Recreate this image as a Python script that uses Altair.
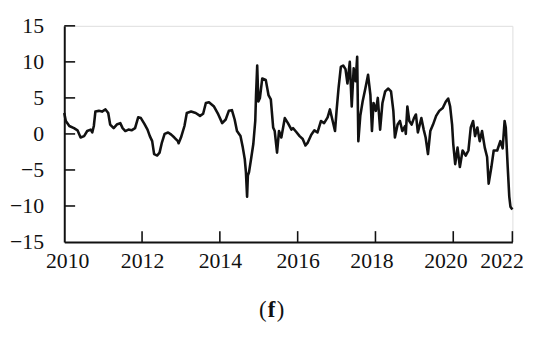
import altair as alt
import pandas as pd

years = [
    2010.00, 2010.04, 2010.13, 2010.25, 2010.34, 2010.42, 2010.51, 2010.59, 2010.68, 2010.72,
    2010.76, 2010.80, 2010.89, 2010.97, 2011.06, 2011.13, 2011.18, 2011.27, 2011.35, 2011.44,
    2011.50, 2011.57, 2011.65, 2011.73, 2011.82, 2011.90, 2011.97, 2012.06, 2012.14, 2012.20,
    2012.26, 2012.31, 2012.39, 2012.45, 2012.51, 2012.58, 2012.67, 2012.75, 2012.83, 2012.92,
    2012.94, 2013.00, 2013.09, 2013.15, 2013.26, 2013.38, 2013.49, 2013.57, 2013.64, 2013.72,
    2013.85, 2013.96, 2014.06, 2014.15, 2014.23, 2014.31, 2014.38, 2014.44, 2014.53, 2014.59,
    2014.64, 2014.67, 2014.70, 2014.72, 2014.75, 2014.81, 2014.86, 2014.91, 2014.93, 2014.96,
    2014.99, 2015.03, 2015.09, 2015.18, 2015.25, 2015.31, 2015.37, 2015.41, 2015.47, 2015.52,
    2015.58, 2015.67, 2015.75, 2015.84,
    2015.88, 2015.96, 2016.05, 2016.13, 2016.20, 2016.26, 2016.35, 2016.43, 2016.51, 2016.60,
    2016.68, 2016.77, 2016.83, 2016.90, 2016.96, 2017.00, 2017.05, 2017.11, 2017.17, 2017.23,
    2017.28, 2017.34, 2017.39, 2017.44, 2017.49, 2017.53, 2017.56, 2017.61, 2017.67, 2017.74,
    2017.81, 2017.87, 2017.91, 2017.95, 2018.01, 2018.06, 2018.12, 2018.18, 2018.25, 2018.33,
    2018.40, 2018.46, 2018.50, 2018.57, 2018.63, 2018.69, 2018.76,
    2018.78, 2018.82, 2018.87, 2018.93, 2018.99, 2019.04, 2019.09, 2019.18, 2019.24, 2019.29,
    2019.35, 2019.41, 2019.48, 2019.56, 2019.64, 2019.73, 2019.81, 2019.87, 2019.92, 2019.97,
    2020.00, 2020.05, 2020.11, 2020.17, 2020.24, 2020.32, 2020.39, 2020.45, 2020.51, 2020.56,
    2020.62, 2020.68, 2020.74, 2020.81, 2020.87, 2020.91, 2020.98, 2021.04, 2021.13, 2021.21,
    2021.27, 2021.32, 2021.35, 2021.40, 2021.44, 2021.47, 2021.52,
]
values = [
    2.9, 1.8, 1.1, 0.8, 0.5, -0.5, -0.3, 0.4, 0.6, 0.2,
    1.1, 3.1, 3.2, 3.1, 3.4, 2.9, 1.3, 0.8, 1.3, 1.5,
    0.8, 0.4, 0.6, 0.5, 0.8, 2.3, 2.2, 1.4, 0.6, -0.3,
    -1.0, -2.8, -3.0, -2.6, -1.2, 0.0, 0.2, -0.1, -0.5, -1.0,
    -1.3, -0.5, 1.1, 2.9, 3.1, 2.9, 2.5, 2.8, 4.3, 4.4,
    3.8, 2.7, 1.5, 2.0, 3.2, 3.3, 2.0, 0.4, -0.3, -1.9,
    -3.5, -5.3, -8.7, -5.8, -5.3, -3.2, -1.4, 1.8, 5.4, 9.5,
    4.5, 5.0, 7.7, 7.5, 5.4, 4.8, 0.9, 0.4, -2.6, 0.4,
    -0.5, 2.2, 1.5, 0.6,
    0.8, 0.3, -0.3, -0.7, -1.6, -1.2, -0.1, 0.5, 0.2, 1.8,
    1.5, 2.3, 3.4, 1.8, 0.4, 3.2, 6.3, 9.3, 9.5, 9.0,
    7.0, 10.0, 3.8, 9.1, 7.3, 10.7, -1.0, 2.5, 4.5, 6.3,
    8.2, 5.4, 0.4, 4.3, 3.2, 5.0, 0.6, 4.3, 5.9, 6.3,
    5.9, 3.2, -0.5, 1.3, 1.8, 0.4, 1.1,
    0.0, 3.8, 1.8, 1.3, 2.2, 2.7, 0.2, 2.2, 0.6, -0.5,
    -2.8, 0.4, 1.3, 2.5, 3.2, 3.6, 4.5, 4.9, 3.8, 1.3,
    -1.4, -4.2, -1.9, -4.6, -2.3, -3.0, -2.3, 0.9, 1.8, -0.3,
    0.9, -1.0, 0.4, -1.9, -3.2, -6.9, -4.6, -2.3, -2.3, -1.0,
    -2.0, 1.8, 0.9, -4.6, -8.7, -10.1, -10.5,
]

x_tick_values = [2010, 2012, 2014, 2016, 2018, 2020, 2021.52]
x_tick_labels = ["2010", "2012", "2014", "2016", "2018", "2020", "2022"]
y_tick_values = [-15, -10, -5, 0, 5, 10, 15]

FONT = "Liberation Serif"
INK = "#111111"
W, H = 454, 219

df = pd.DataFrame({"year": years, "value": values})

label_map = "{" + ",".join(f"'{v}':'{l}'" for v, l in zip(x_tick_values, x_tick_labels)) + "}"

x_scale = alt.Scale(domain=[x_tick_values[0], x_tick_values[-1]], nice=False, zero=False)
y_scale = alt.Scale(domain=[y_tick_values[0], y_tick_values[-1]], nice=False, zero=False)

x_label_offset = {
    "condition": [
        {"test": "datum.value > 2021", "value": -11},
        {"test": "datum.value == 2020", "value": -8},
        {"test": "datum.value == 2018", "value": -4},
        {"test": "datum.value == 2010", "value": 3},
    ],
    "value": 0,
}

x_axis = alt.Axis(values=x_tick_values, labelExpr=label_map + "[''+datum.value]",
                  tickSize=0, labelFont=FONT, labelFontSize=22, labelColor=INK,
                  labelPadding=9, labelOverlap=False, labelFlush=False, labelBound=False,
                  labelOffset=x_label_offset,
                  domainColor=INK, domainWidth=2, grid=False)
y_axis = alt.Axis(values=y_tick_values, tickSize=0, labelFont=FONT, labelFontSize=22,
                  labelColor=INK, labelPadding=21, labelOverlap=False,
                  labelFlush=False, labelBound=False,
                  domainColor=INK, domainWidth=2, grid=False)

line = alt.Chart(df).mark_line(color=INK, strokeWidth=2.6, strokeJoin="round").encode(
    x=alt.X("year:Q", scale=x_scale, title=None, axis=x_axis),
    y=alt.Y("value:Q", scale=y_scale, title=None, axis=y_axis),
)

yt = alt.Chart(pd.DataFrame({"v": y_tick_values[1:]})).mark_rule(color=INK, strokeWidth=1.6).encode(
    y=alt.Y("v:Q", scale=y_scale, title=None, axis=y_axis), x=alt.value(0), x2=alt.value(11)
)
xt = alt.Chart(pd.DataFrame({"v": x_tick_values[1:]})).mark_rule(color=INK, strokeWidth=1.6).encode(
    x=alt.X("v:Q", scale=x_scale, title=None, axis=x_axis), y=alt.value(H), y2=alt.value(H - 11)
)

one = pd.DataFrame({"k": [0]})
cap_l = alt.Chart(one).mark_text(text="(", font=FONT, fontSize=23, color=INK,
                                  baseline="alphabetic", align="center").encode(
    x=alt.value(201), y=alt.value(295))
cap_f = alt.Chart(one).mark_text(text="f", font=FONT, fontSize=23, fontWeight="bold", color=INK,
                                  baseline="alphabetic", align="center").encode(
    x=alt.value(210), y=alt.value(295))
cap_r = alt.Chart(one).mark_text(text=")", font=FONT, fontSize=23, color=INK,
                                  baseline="alphabetic", align="center").encode(
    x=alt.value(219), y=alt.value(295))

chart = alt.layer(line, yt, xt, cap_l, cap_f, cap_r).properties(
    width=W, height=H,
    autosize=alt.AutoSizeParams(type="none"),
    padding={"left": 57, "top": 16, "right": 30, "bottom": 82},
).configure_view(strokeWidth=0).configure(background="white")

chart.save("out.html", embed_options={"renderer": "svg", "actions": False})
